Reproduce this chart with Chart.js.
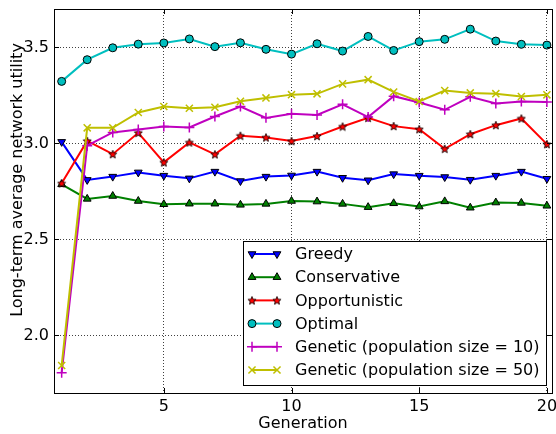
<!DOCTYPE html>
<html>
<head>
<meta charset="utf-8">
<script src="https://cdn.jsdelivr.net/npm/chart.js@4/dist/chart.umd.min.js"></script>
<style>
  html, body { margin: 0; padding: 0; background: #fff; }
  canvas { display: block; }
</style>
</head>
<body>
<canvas id="utilityChart" width="556" height="434"></canvas>
<script>
const generations = [1, 2, 3, 4, 5, 6, 7, 8, 9, 10, 11, 12, 13, 14, 15, 16, 17, 18, 19, 20];

const greedy        = [3.008, 2.810, 2.827, 2.849, 2.832, 2.818, 2.853, 2.804, 2.827, 2.833, 2.853, 2.821, 2.808, 2.840, 2.832, 2.825, 2.811, 2.832, 2.853, 2.816];
const conservative  = [2.787, 2.711, 2.726, 2.700, 2.683, 2.686, 2.686, 2.680, 2.685, 2.700, 2.697, 2.685, 2.668, 2.688, 2.671, 2.698, 2.665, 2.692, 2.690, 2.675];
const opportunistic = [2.792, 3.013, 2.944, 3.055, 2.901, 3.005, 2.943, 3.040, 3.031, 3.012, 3.038, 3.088, 3.133, 3.090, 3.074, 2.972, 3.048, 3.095, 3.130, 2.996];
const optimal       = [3.323, 3.436, 3.498, 3.517, 3.523, 3.544, 3.504, 3.524, 3.490, 3.465, 3.519, 3.481, 3.557, 3.484, 3.530, 3.542, 3.595, 3.533, 3.516, 3.512];
const genetic10     = [1.805, 2.988, 3.057, 3.073, 3.088, 3.083, 3.140, 3.192, 3.133, 3.155, 3.148, 3.204, 3.137, 3.246, 3.213, 3.175, 3.243, 3.208, 3.218, 3.215];
const genetic50     = [1.843, 3.081, 3.081, 3.161, 3.192, 3.183, 3.188, 3.219, 3.237, 3.254, 3.258, 3.310, 3.332, 3.268, 3.218, 3.275, 3.263, 3.259, 3.244, 3.253];

const xTicks = [5, 10, 15, 20];
const yTicks = [2.0, 2.5, 3.0, 3.5];

const FONT = "'DejaVu Sans', sans-serif";
const Y_TITLE = "Long-term average network utility";

// small filled five-point star, matplotlib style
function makeStar(fill) {
  const c = document.createElement("canvas");
  c.width = 10;
  c.height = 10;
  const g = c.getContext("2d");
  g.beginPath();
  for (let i = 0; i < 10; i++) {
    const r = i % 2 === 0 ? 4.3 : 1.9;
    const a = -Math.PI / 2 + i * Math.PI / 5;
    const px = 5 + r * Math.cos(a);
    const py = 5.4 + r * Math.sin(a);
    if (i === 0) g.moveTo(px, py); else g.lineTo(px, py);
  }
  g.closePath();
  g.fillStyle = fill;
  g.fill();
  g.lineWidth = 0.8;
  g.strokeStyle = "#000";
  g.stroke();
  return c;
}

const starImg = makeStar("#ff0000");

function series(label, values, color, marker, extra) {
  return Object.assign({
    label,
    data: generations.map((g, i) => ({ x: g, y: values[i] })),
    borderColor: color,
    backgroundColor: color,
    borderWidth: 2,
    pointStyle: marker,
    pointRadius: 4.5,
    pointBorderColor: "#000",
    pointBorderWidth: 1,
    pointBackgroundColor: color,
    tension: 0,
    fill: false,
  }, extra || {});
}

const datasets = [
  series("Greedy", greedy, "#0000ff", "triangle", { pointRotation: 180, order: 0 }),
  series("Conservative", conservative, "#008000", "triangle", { order: -1 }),
  series("Opportunistic", opportunistic, "#ff0000", starImg, { order: -2 }),
  series("Optimal", optimal, "#00bfbf", "circle", { pointRadius: 4, order: -3 }),
  series("Genetic (population size = 10)", genetic10, "#bf00bf", "cross",
    { pointBorderColor: "#bf00bf", pointBorderWidth: 1.5, pointRadius: 5, order: -4 }),
  series("Genetic (population size = 50)", genetic50, "#bfbf00", "crossRot",
    { pointBorderColor: "#bfbf00", pointBorderWidth: 1.5, pointRadius: 5, order: -5 }),
];

// pin the plot box where the original axes sit
const boxPlugin = {
  id: "box",
  afterLayout(chart) {
    const a = chart.chartArea;
    a.right = 552;
    a.width = a.right - a.left;
    const x = chart.scales.x;
    x.right = 552;
    x.width = x.right - x.left;
    x.configure();
  },
};

// frame, inward ticks, y title and the boxed legend
const framePlugin = {
  id: "frame",
  afterDraw(chart) {
    const { ctx, chartArea: a, scales } = chart;
    ctx.save();
    ctx.strokeStyle = "#000";
    ctx.lineWidth = 1;
    ctx.setLineDash([]);
    ctx.beginPath();
    xTicks.forEach((v) => {
      const px = Math.round(scales.x.getPixelForValue(v)) + 0.5;
      ctx.moveTo(px, a.bottom); ctx.lineTo(px, a.bottom - 5);
      ctx.moveTo(px, a.top); ctx.lineTo(px, a.top + 5);
    });
    yTicks.forEach((v) => {
      const py = Math.round(scales.y.getPixelForValue(v)) + 0.5;
      ctx.moveTo(a.left, py); ctx.lineTo(a.left + 5, py);
      ctx.moveTo(a.right, py); ctx.lineTo(a.right - 5, py);
    });
    ctx.stroke();
    ctx.strokeRect(Math.round(a.left) + 0.5, Math.round(a.top) + 0.5,
      Math.round(a.right - a.left), Math.round(a.bottom - a.top));

    // y axis title, centred where the original sits
    ctx.save();
    ctx.translate(18, 180);
    ctx.rotate(-Math.PI / 2);
    ctx.font = "16px " + FONT;
    ctx.fillStyle = "#000";
    ctx.textAlign = "center";
    ctx.textBaseline = "middle";
    ctx.fillText(Y_TITLE, 0, 0);
    ctx.restore();

    // legend
    const bx = 243, by = 241, bw = 303, bh = 144;
    ctx.fillStyle = "#fff";
    ctx.fillRect(bx, by, bw, bh);
    ctx.strokeRect(bx + 0.5, by + 0.5, bw, bh);
    ctx.font = "16px " + FONT;
    ctx.textBaseline = "middle";
    chart.data.datasets.forEach((ds, i) => {
      const y = by + 13 + i * 23.2;
      ctx.strokeStyle = ds.borderColor;
      ctx.lineWidth = ds.borderWidth;
      ctx.beginPath();
      ctx.moveTo(252, y); ctx.lineTo(277, y);
      ctx.stroke();
      const opts = {
        pointStyle: ds.pointStyle,
        rotation: ds.pointRotation || 0,
        radius: ds.pointRadius,
        borderWidth: ds.pointBorderWidth,
      };
      [252, 277].forEach((px) => {
        ctx.fillStyle = ds.pointBackgroundColor;
        ctx.strokeStyle = ds.pointBorderColor;
        ctx.lineWidth = ds.pointBorderWidth;
        Chart.helpers.drawPoint(ctx, opts, px, y);
      });
      ctx.fillStyle = "#000";
      ctx.fillText(ds.label, 295, y + 1);
    });
    ctx.restore();
  },
};

new Chart(document.getElementById("utilityChart"), {
  type: "line",
  data: { datasets },
  plugins: [boxPlugin, framePlugin],
  options: {
    responsive: false,
    devicePixelRatio: 1,
    animation: false,
    layout: { padding: { top: 9, right: 4, left: 0, bottom: 0 } },
    plugins: {
      legend: { display: false },
      tooltip: { enabled: false },
    },
    scales: {
      x: {
        type: "linear",
        min: 0.7,
        max: 20.2,
        afterBuildTicks: (scale) => { scale.ticks = xTicks.map((v) => ({ value: v })); },
        afterFit: (scale) => {
          scale.height = 41;
          scale.paddingLeft = 0;
          scale.paddingRight = 0;
        },
        grid: { color: "rgba(0,0,0,0.75)", lineWidth: 1, drawTicks: false },
        border: { display: false, dash: [1, 2] },
        ticks: {
          font: { family: FONT, size: 16 },
          color: "#000",
          padding: 4,
          maxRotation: 0,
          callback: (v) => String(v),
        },
        title: {
          display: true,
          text: "Generation",
          font: { family: FONT, size: 16 },
          color: "#000",
          padding: { top: 0, bottom: 1 },
        },
      },
      y: {
        min: 1.7,
        max: 3.7,
        afterBuildTicks: (scale) => { scale.ticks = yTicks.map((v) => ({ value: v })); },
        afterFit: (scale) => {
          scale.width = 54;
          scale.paddingTop = 0;
          scale.paddingBottom = 0;
        },
        grid: { color: "rgba(0,0,0,0.75)", lineWidth: 1, drawTicks: false },
        border: { display: false, dash: [1, 2] },
        ticks: {
          font: { family: FONT, size: 16 },
          color: "#000",
          padding: 5,
          callback: (v) => Number(v).toFixed(1),
        },
      },
    },
  },
});
</script>
</body>
</html>
